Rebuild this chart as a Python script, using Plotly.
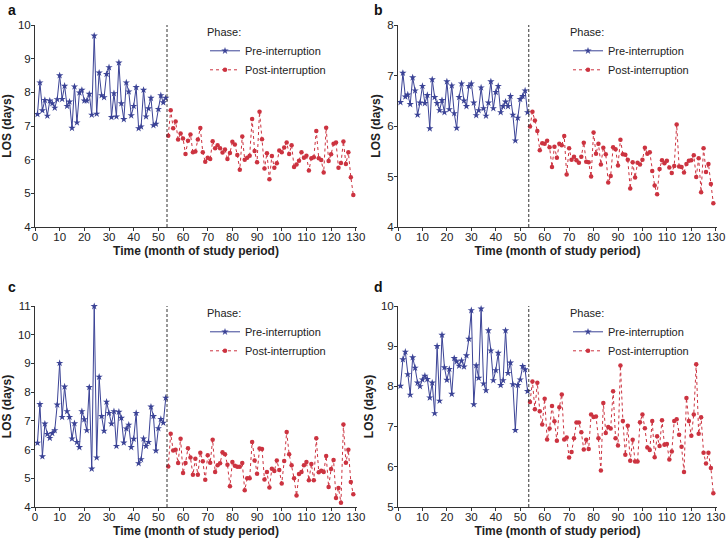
import plotly.graph_objects as go

pre_months = list(range(1, 54))
post_months = list(range(54, 130))
interruption_month = 53.5
x_ticks = list(range(0, 131, 10))

a_pre = [7.35, 8.29, 7.46, 7.77, 7.30, 7.75, 7.67, 7.54, 7.79, 8.50, 7.80, 8.19, 7.59, 7.72, 6.94, 8.17, 7.10, 7.99, 8.07, 7.75,
         7.75, 7.95, 7.33, 9.68, 7.36, 8.58, 7.91, 7.85, 8.54, 8.74, 7.26, 7.97, 7.28, 8.88, 7.67, 7.20, 8.29, 8.02, 7.31, 7.59,
         8.15, 6.93, 6.98, 8.07, 7.28, 7.52, 7.83, 7.02, 7.06, 7.50, 7.91, 7.70, 7.83]
a_post = [6.71, 7.47, 6.93, 7.13, 6.60, 6.78, 6.63, 6.17, 6.56, 6.75, 6.22, 6.24, 6.60, 6.94, 6.22, 5.94, 6.06, 6.02, 6.55, 6.34,
          6.43, 6.34, 6.21, 6.30, 6.02, 6.20, 6.53, 6.45, 6.14, 5.70, 6.69, 6.00, 6.06, 6.12, 7.21, 6.26, 5.92, 7.42, 6.61, 5.74,
          6.19, 5.42, 6.11, 5.76, 5.89, 6.27, 6.22, 6.36, 6.51, 6.17, 6.43, 5.78, 5.86, 5.97, 6.22, 6.06, 6.12, 5.68, 6.04, 6.07,
          6.85, 6.04, 5.99, 5.62, 6.95, 5.96, 6.16, 6.47, 6.51, 5.76, 5.90, 6.54, 5.87, 6.22, 5.48, 4.95]

b_pre = [6.47, 7.05, 6.58, 6.62, 6.43, 6.96, 6.70, 6.22, 6.46, 6.79, 6.45, 6.61, 5.95, 6.92, 6.57, 6.45, 6.31, 6.51, 6.27, 6.88,
         6.33, 6.80, 6.25, 5.96, 6.57, 6.84, 6.50, 6.39, 6.79, 6.84, 6.46, 6.21, 6.31, 6.76, 6.35, 6.20, 6.46, 6.88, 6.35, 6.67,
         6.79, 6.27, 6.39, 6.48, 6.39, 6.59, 6.22, 5.71, 6.16, 6.53, 6.59, 6.70, 6.27]
b_post = [5.99, 6.28, 6.11, 5.90, 5.52, 5.66, 5.65, 5.71, 5.58, 5.19, 5.59, 5.37, 5.65, 5.62, 5.80, 5.04, 5.56, 5.33, 5.39, 5.32,
          5.27, 5.39, 5.67, 5.29, 5.28, 5.00, 5.87, 5.45, 5.65, 5.24, 5.57, 5.44, 4.88, 5.01, 5.58, 5.54, 5.22, 5.73, 5.44, 5.43,
          5.33, 4.76, 5.28, 4.98, 5.27, 5.24, 5.33, 5.57, 5.45, 5.48, 5.11, 4.82, 4.65, 5.15, 5.32, 5.26, 5.31, 5.18, 5.07, 5.21,
          6.03, 5.20, 5.19, 5.08, 5.25, 5.31, 5.32, 5.42, 4.99, 5.36, 4.69, 5.56, 5.09, 5.25, 4.85, 4.47]

c_pre = [6.23, 7.58, 5.76, 6.90, 6.54, 6.40, 6.57, 6.67, 7.56, 9.01, 7.13, 8.19, 7.33, 7.13, 6.38, 6.91, 6.26, 6.08, 7.33, 7.05,
         6.67, 8.17, 5.33, 10.99, 5.72, 8.53, 7.16, 6.65, 7.66, 7.27, 6.90, 7.33, 6.12, 7.31, 7.10, 6.24, 6.73, 6.86, 6.08, 6.37,
         7.27, 5.52, 5.66, 6.38, 6.12, 6.26, 7.49, 7.16, 5.96, 6.74, 7.06, 6.93, 7.80]
c_post = [5.41, 6.55, 5.97, 5.99, 5.53, 6.38, 5.18, 5.53, 6.05, 5.72, 5.12, 5.68, 5.12, 5.89, 5.59, 4.95, 5.80, 5.54, 6.34, 5.22,
          5.45, 5.52, 5.91, 5.84, 5.47, 4.72, 5.57, 5.44, 5.40, 5.40, 5.53, 4.58, 5.00, 5.00, 6.26, 5.62, 5.16, 6.04, 6.02, 4.96,
          5.22, 4.68, 5.33, 5.25, 5.62, 5.29, 4.82, 5.60, 6.61, 5.84, 5.45, 5.00, 4.40, 5.15, 5.22, 5.45, 5.57, 4.93, 5.50, 4.93,
          6.39, 5.21, 5.26, 5.22, 5.78, 4.70, 5.32, 5.64, 4.31, 4.66, 4.15, 6.87, 5.54, 5.99, 4.87, 4.44]

d_pre = [8.01, 8.67, 8.86, 8.30, 7.79, 8.72, 8.46, 8.09, 8.00, 8.17, 8.26, 8.18, 7.72, 8.09, 7.33, 9.00, 7.64, 9.28, 8.47, 8.16,
         8.43, 7.81, 8.70, 8.62, 8.51, 8.64, 8.49, 8.77, 9.18, 9.89, 7.55, 8.52, 8.21, 9.93, 8.07, 7.90, 9.39, 8.89, 8.15, 8.40,
         8.83, 8.03, 8.15, 9.39, 8.33, 8.59, 8.05, 6.91, 8.03, 8.17, 8.50, 8.42, 7.88]
d_post = [7.61, 8.12, 7.43, 8.09, 7.38, 7.05, 7.69, 6.68, 6.95, 7.51, 7.13, 6.65, 7.48, 7.80, 6.68, 6.73, 6.23, 6.37, 6.71, 7.10,
          7.10, 6.86, 6.43, 6.67, 6.44, 7.30, 7.24, 7.25, 6.71, 5.91, 7.59, 6.84, 6.99, 6.95, 7.88, 6.71, 6.53, 8.52, 7.14, 6.30,
          7.02, 6.15, 6.67, 6.13, 6.13, 7.11, 7.30, 6.96, 6.48, 6.42, 7.14, 6.24, 6.76, 6.52, 7.16, 6.55, 6.57, 6.18, 6.38, 7.14,
          7.18, 6.80, 6.50, 5.87, 7.71, 7.14, 6.77, 7.30, 8.55, 6.82, 7.23, 6.35, 6.08, 6.35, 5.97, 5.34]

panels = [
    ("a", a_pre, a_post, [4, 10]),
    ("b", b_pre, b_post, [4, 8]),
    ("c", c_pre, c_post, [4, 11]),
    ("d", d_pre, d_post, [5, 10]),
]

W, H = 727, 540
BLUE = "#3b4396"
RED = "#cc3340"
FONT = "Liberation Sans, Arial, sans-serif"

# pixel boxes of plot areas: (left, right, top, bottom)
boxes = [(35, 357, 25, 227), (398, 717, 25, 227), (35, 357, 306, 507), (398, 717, 306, 507)]
label_pos = [(6, 10), (372, 10), (6, 287), (372, 287)]

fig = go.Figure()
layout = dict(
    width=W, height=H, margin=dict(l=0, r=0, t=0, b=0, autoexpand=False),
    paper_bgcolor="white", plot_bgcolor="white",
    font=dict(family=FONT, size=11, color="#222"),
    showlegend=True,
)
annotations = []
shapes = []

for i, (lab, pre, post, yr) in enumerate(panels):
    n = "" if i == 0 else str(i + 1)
    xa, ya = "x" + n, "y" + n
    lg = "legend" + n
    l, r, t, b = boxes[i]
    fig.add_trace(go.Scatter(
        x=pre_months, y=pre, xaxis=xa, yaxis=ya, mode="lines+markers",
        name="Pre-interruption", legend=lg, cliponaxis=False,
        line=dict(color=BLUE, width=1),
        marker=dict(symbol="star", size=5.5, color=BLUE),
    ))
    fig.add_trace(go.Scatter(
        x=post_months, y=post, xaxis=xa, yaxis=ya, mode="lines+markers",
        name="Post-interruption", legend=lg, cliponaxis=False,
        line=dict(color=RED, width=1, dash="dot"),
        marker=dict(symbol="circle", size=4.5, color=RED),
    ))
    layout["xaxis" + n] = dict(
        domain=[l / W, r / W], anchor=ya, range=[0, 130.5], automargin=False,
        tickvals=x_ticks, ticks="outside", ticklen=3, tickcolor="#333",
        ticklabelstandoff=-4,
        showline=True, linecolor="#333", linewidth=1, showgrid=False, zeroline=False,
        tickfont=dict(size=11.5, color="#222"),
        title=dict(text="<b>Time (month of study period)</b>", font=dict(size=12, color="#222"), standoff=4),
    )
    layout["yaxis" + n] = dict(
        domain=[1 - b / H, 1 - t / H], anchor=xa, range=yr, dtick=1, automargin=False,
        ticks="outside", ticklen=3, tickcolor="#333",
        ticklabelstandoff=-2,
        showline=True, linecolor="#333", linewidth=1, showgrid=False, zeroline=False,
        tickfont=dict(size=11.5, color="#222"),
        title=dict(text="<b>LOS (days)</b>", font=dict(size=12, color="#222"), standoff=4),
    )
    layout[lg] = dict(
        x=(l + 170) / W, y=1 - (t - 3) / H, xanchor="left", yanchor="top",
        bgcolor="rgba(0,0,0,0)", borderwidth=0,
        title=dict(text="Phase:", font=dict(size=11, color="#222")),
        font=dict(size=11, color="#222"), itemwidth=30, tracegroupgap=0,
    )
    shapes.append(dict(
        type="line", xref=xa, yref="y" + n + " domain", x0=interruption_month, x1=interruption_month,
        y0=0, y1=1, line=dict(color="#333", width=1, dash="3px,2px"),
    ))
    annotations.append(dict(
        text="<b>" + lab + "</b>", xref="paper", yref="paper",
        x=label_pos[i][0] / W, y=1 - label_pos[i][1] / H, xanchor="left", yanchor="middle",
        showarrow=False, font=dict(size=14, color="#111"),
    ))

layout["annotations"] = annotations
layout["shapes"] = shapes
fig.update_layout(**layout)
fig.write_html("out.html", config={"displayModeBar": False},
               post_script="document.body.style.margin='0px';")
